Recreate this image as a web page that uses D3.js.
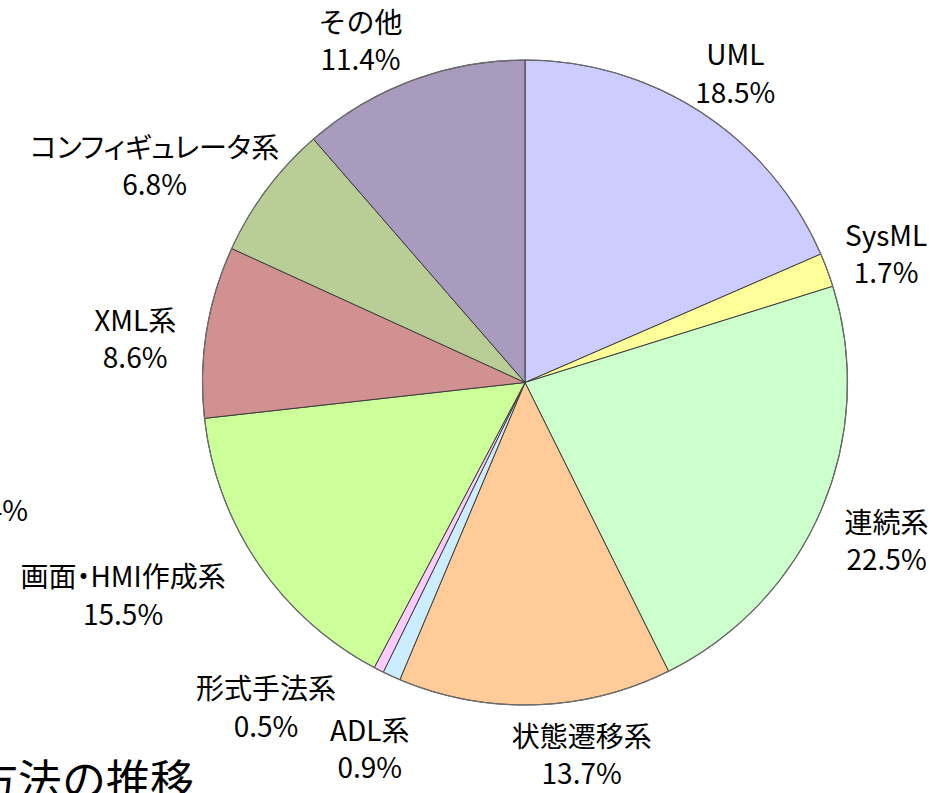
<!DOCTYPE html>
<html>
<head>
<meta charset="utf-8">
<script src="https://cdn.jsdelivr.net/npm/d3@7"></script>
<style>
  html, body { margin: 0; padding: 0; background: #fff; }
  svg { display: block; }
  text { font-family: "Noto Sans CJK JP", "Noto Sans", sans-serif; fill: #000; }
</style>
</head>
<body>
<svg id="chart" width="937" height="793"></svg>
<script>
// ---- data ----
const categories = ["UML", "SysML", "連続系", "状態遷移系", "ADL系", "形式手法系", "画面・HMI作成系", "XML系", "コンフィギュレータ系", "その他"];
const values = [18.5, 1.7, 22.5, 13.7, 0.9, 0.5, 15.5, 8.6, 6.8, 11.4];
const colors = ["#CCCCFF", "#FFFF99", "#CCFFCC", "#FFCC99", "#CCECFF", "#FFCCFF", "#CCFF99", "#D19191", "#B9CD96", "#A99BBD"];
const clippedTitle = "方法の推移";
const clippedLabel = "4%";

// ---- layout ----
const W = 937, H = 793;
const cx = 525, cy = 382.5, r = 322.5;
const labelGap = 50;
// label nudges (Excel best-fit placement), relative to the point r+labelGap out along each slice's mid angle
const labelNudge = [[6, 3], [12, 2], [19, 13], [45, 1], [-1, 28], [-90, -6], [-94, 4], [-22, 16], [-72, 7], [-34, 8]];

const svg = d3.select("#chart");
const data = categories.map((c, i) => ({ name: c, value: values[i], color: colors[i], i }));

const pie = d3.pie().sort(null).value(d => d.value);
const arcs = pie(data);
const arc = d3.arc().innerRadius(0).outerRadius(r);

const g = svg.append("g").attr("transform", `translate(${cx},${cy})`);
g.selectAll("path.slice")
  .data(arcs)
  .join("path")
  .attr("class", "slice")
  .attr("d", arc)
  .attr("fill", d => d.data.color)
  .attr("stroke", "#3c3c3c")
  .attr("stroke-width", 1)
  .attr("stroke-linejoin", "round");

// outer rim slightly lighter
g.append("circle").attr("r", r).attr("fill", "none").attr("stroke", "#6e6e6e").attr("stroke-width", 1.2);

const labelArc = d3.arc().innerRadius(r + labelGap).outerRadius(r + labelGap);
const fs = 28;
const lab = svg.append("g").attr("font-size", fs).attr("text-anchor", "middle");
arcs.forEach((a, k) => {
  const ang = (a.startAngle + a.endAngle) / 2;
  const R = r + labelGap;
  const x = cx + R * Math.sin(ang) + labelNudge[k][0];
  const y = cy - R * Math.cos(ang) + labelNudge[k][1];
  const t = lab.append("text").attr("x", x).attr("y", y);
  if (a.data.name.length > 6) t.style("font-feature-settings", "'palt'");
  t.append("tspan").attr("x", x).attr("y", y - 9).text(a.data.name);
  t.append("tspan").attr("x", x).attr("y", y + 28.5)
    .style("font-feature-settings", "normal")
    .text(d3.format(".1f")(a.data.value) + "%");
});

// cropped fragments from the original slide
svg.append("text").attr("x", 28).attr("y", 521).attr("font-size", fs).attr("text-anchor", "end").text(clippedLabel);
svg.append("text").attr("x", 194).attr("y", 797).attr("font-size", 44).attr("text-anchor", "end").text(clippedTitle);
</script>
</body>
</html>
